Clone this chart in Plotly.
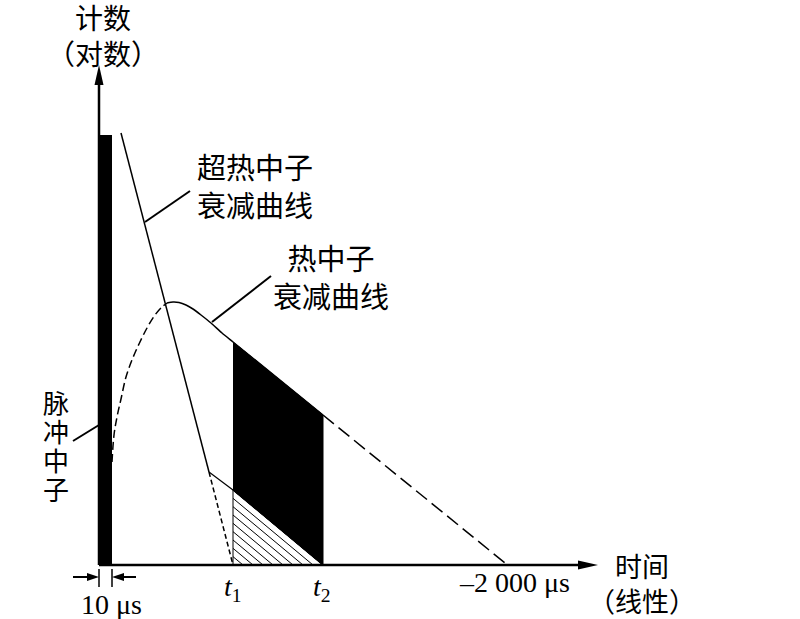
import plotly.graph_objects as go

# ---------------- data (schematic units: x = time, linear; y = counts, log) -------------
axis_x_end = 499          # end of the time axis (arrow tip)
axis_y_end = 500          # end of the count axis (arrow tip)

pulse_x = [0, 13]         # neutron pulse (10 μs wide)
pulse_top = 430

epi_solid_x = [22, 110]   # epithermal neutron decay curve
epi_solid_y = [432, 93]
epi_dash_x = [110, 134]
epi_dash_y = [93, 0]

therm_rise_x = [13, 15, 18, 22, 27, 33, 40, 48, 56, 63, 68]
therm_rise_y = [103, 130, 148, 166, 188, 205, 221, 237, 250, 258, 262]
therm_main_x = [68, 74, 80, 87, 94, 102, 112, 123, 134, 224]
therm_main_y = [262, 263, 262.5, 260, 256, 250, 242, 232, 223, 150]
therm_tail_x = [224, 406]
therm_tail_y = [150, 2]

bg_x = [110, 134, 224]     # background line
bg_y = [93, 75, 0]

t1, t2 = 134, 224
gate_x = [t1, t2, t2, t1]
gate_y = [223, 150, 0, 75]
hatch_x = [t1, t1, t2]
hatch_y = [75, 0, 0]
n_hatch = 9

cjk = "Noto Sans CJK SC"
serif = "Liberation Serif"

fig = go.Figure()

# pulse bar
fig.add_trace(go.Bar(x=[(pulse_x[0] + pulse_x[1]) / 2], y=[pulse_top],
                     width=pulse_x[1] - pulse_x[0], marker_color="black",
                     marker_line_width=0, hoverinfo="skip"))

# counting gate (black)
fig.add_trace(go.Scatter(x=gate_x, y=gate_y, fill="toself", fillcolor="black",
                         mode="lines", line=dict(color="black", width=1)))
# hatched triangle outline
fig.add_trace(go.Scatter(x=hatch_x + [hatch_x[0]], y=hatch_y + [hatch_y[0]],
                         mode="lines", line=dict(color="black", width=1)))
# hatch lines parallel to the triangle hypotenuse
hx, hy = [], []
h_top = hatch_y[0]
for k in range(1, n_hatch):
    f = k / n_hatch
    hx += [t1, t1 + (t2 - t1) * (1 - f), None]
    hy += [h_top * (1 - f), 0, None]
fig.add_trace(go.Scatter(x=hx, y=hy, mode="lines", line=dict(color="black", width=1)))

line_style = dict(color="black", width=1.5)
fig.add_trace(go.Scatter(x=epi_solid_x, y=epi_solid_y, mode="lines", line=line_style))
fig.add_trace(go.Scatter(x=epi_dash_x, y=epi_dash_y, mode="lines",
                         line=dict(color="black", width=1.5, dash="5px,3px")))
fig.add_trace(go.Scatter(x=therm_rise_x, y=therm_rise_y, mode="lines",
                         line=dict(color="black", width=1.5, dash="8px,4px", shape="spline")))
fig.add_trace(go.Scatter(x=therm_main_x, y=therm_main_y, mode="lines",
                         line=dict(color="black", width=1.5, shape="spline", smoothing=0.6)))
fig.add_trace(go.Scatter(x=therm_tail_x, y=therm_tail_y, mode="lines",
                         line=dict(color="black", width=1.5, dash="14px,6px")))
fig.add_trace(go.Scatter(x=bg_x, y=bg_y, mode="lines", line=dict(color="black", width=1.2)))

shapes = []


def head(tx, ty, dx, dy, length, half):
    bx, by = tx - dx * length, ty - dy * length
    px, py = -dy, dx
    return dict(type="path", xref="x", yref="y", line=dict(width=0), fillcolor="black",
                path=f"M {tx} {ty} L {bx + px * half} {by + py * half} "
                     f"L {bx - px * half} {by - py * half} Z")


def seg(x0, y0, x1, y1, w=2):
    return dict(type="line", xref="x", yref="y", x0=x0, y0=y0, x1=x1, y1=y1,
                line=dict(color="black", width=w))


# axes
shapes.append(seg(0, 0, 0, axis_y_end - 16, 2.5))
shapes.append(head(0, axis_y_end, 0, 1, 20, 4.5))
shapes.append(seg(0, 0, axis_x_end - 16, 0, 2.5))
shapes.append(head(axis_x_end, 0, 1, 0, 20, 4.5))

# 10 μs dimension marks
dim_y = -12
shapes.append(seg(pulse_x[0], -4, pulse_x[0], -22, 1.5))
shapes.append(seg(pulse_x[1], -4, pulse_x[1], -22, 1.5))
shapes.append(seg(pulse_x[0] - 26, dim_y, pulse_x[0] - 10, dim_y, 2))
shapes.append(head(pulse_x[0], dim_y, 1, 0, 12, 4))
shapes.append(seg(pulse_x[1] + 24, dim_y, pulse_x[1] + 10, dim_y, 2))
shapes.append(head(pulse_x[1], dim_y, -1, 0, 12, 4))

# leader lines
shapes.append(seg(-26, 124, 0, 140, 2))
shapes.append(seg(46, 343, 91, 374, 2))
shapes.append(seg(113, 243, 172, 289, 2))

annotations = []


def label(x, y, text, font, size, xanchor="center", yanchor="middle", align="center"):
    annotations.append(dict(x=x, y=y, xref="x", yref="y", text=text, showarrow=False,
                            xanchor=xanchor, yanchor=yanchor, align=align,
                            font=dict(family=font, size=size, color="black")))


label(4, 530, "计数<br>（对数）", cjk, 28)
label(96, 380, "超热中子<br>衰减曲线", cjk, 29, xanchor="left", align="left")
label(232, 289, "热中子<br>衰减曲线", cjk, 29)
for i, ch in enumerate("脉冲中子"):
    label(-43, 164 - 29 * i, ch, cjk, 26)
label(543, -18, "时间<br>（线性）", cjk, 27)
label(12, -39, "10 μs", serif, 28)
label(t1, -23, "<i>t</i><sub>1</sub>", serif, 28)
label(t2 - 1, -23, "<i>t</i><sub>2</sub>", serif, 28)
label(473, -17, "–2 000 μs", serif, 28, xanchor="right")

fig.update_layout(
    width=800, height=619, autosize=False,
    margin=dict(l=0, r=0, t=0, b=0),
    paper_bgcolor="white", plot_bgcolor="white",
    showlegend=False,
    xaxis=dict(range=[-99, 701], visible=False, fixedrange=True),
    yaxis=dict(range=[-54, 565], visible=False, fixedrange=True),
    shapes=shapes, annotations=annotations,
    bargap=0,
)

fig.write_html("out.html",
               config={"displayModeBar": False},
               post_script="document.body.style.margin='0';"
                           "document.body.style.overflow='hidden';")
